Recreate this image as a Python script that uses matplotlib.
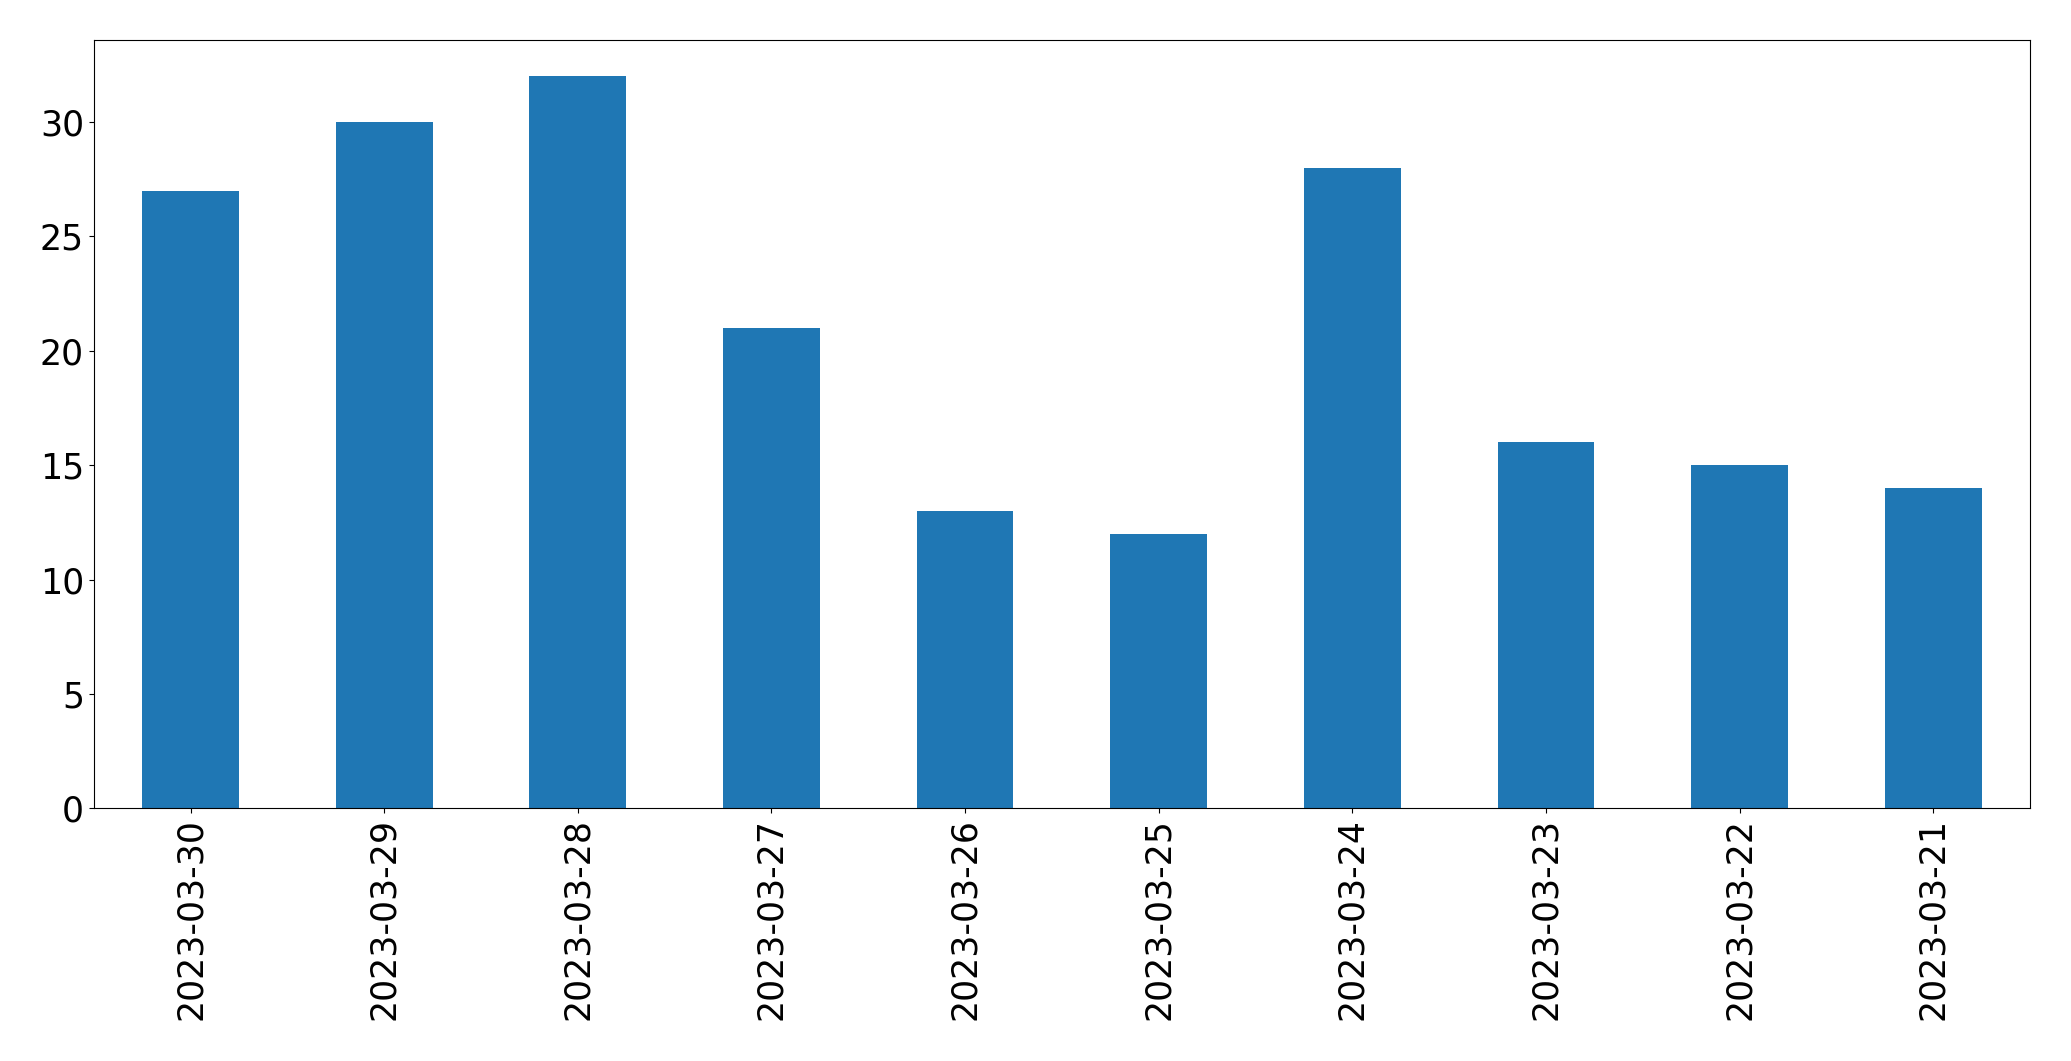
import matplotlib
matplotlib.use("Agg")
import matplotlib.pyplot as plt
import pandas as pd

# daily counts, newest first (as in the original ordering)
DATES = ["2023-03-30", "2023-03-29", "2023-03-28", "2023-03-27", "2023-03-26",
         "2023-03-25", "2023-03-24", "2023-03-23", "2023-03-22", "2023-03-21"]
COUNTS = [27, 30, 32, 21, 13, 12, 28, 16, 15, 14]

s = pd.Series(COUNTS, index=DATES)

fig = plt.figure(figsize=(20.71, 10.61), dpi=100)
ax = fig.add_axes([93.8 / 2071, 1 - 808.3 / 1061, (2030 - 93.8) / 2071, (808.3 - 39.6) / 1061])
s.plot(kind="bar", ax=ax, color="#1f77b4")
ax.tick_params(axis="both", labelsize=25)

fig.savefig("out.png", dpi=100)
